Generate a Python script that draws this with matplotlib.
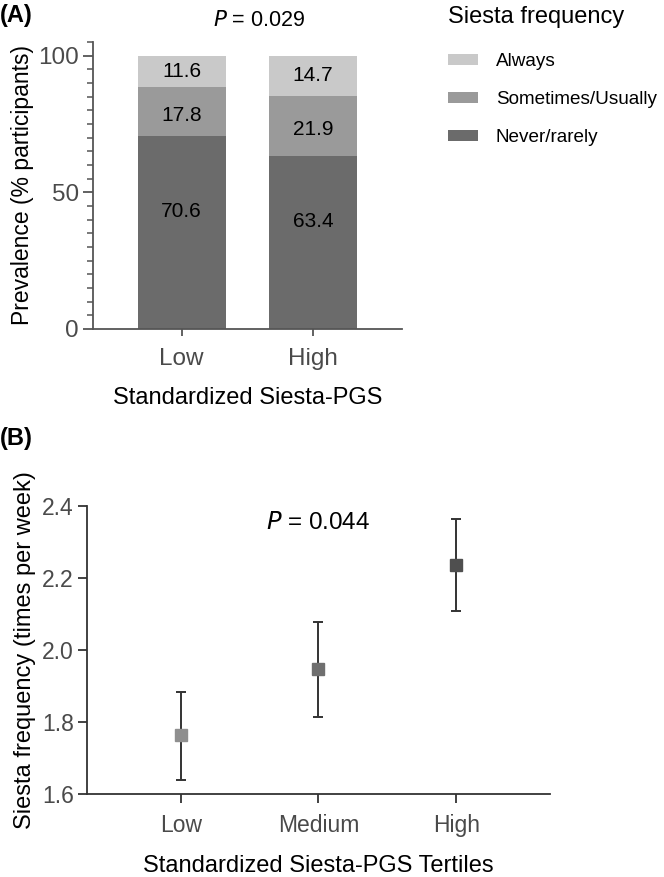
import matplotlib.pyplot as plt
from matplotlib.ticker import MultipleLocator
from matplotlib.patches import Patch

plt.rcParams['font.family'] = ['Liberation Sans', 'DejaVu Sans']

# panel A data
groups_a = ["Low", "High"]
never = [70.6, 63.4]
sometimes = [17.8, 21.9]
always = [11.6, 14.7]
freq_labels = ["Always", "Sometimes/Usually", "Never/rarely"]
freq_colors = ["#c9c9c9", "#9a9a9a", "#6b6b6b"]

# panel B data
groups_b = ["Low", "Medium", "High"]
means = [1.764, 1.947, 2.238]
lower = [1.639, 1.815, 2.110]
upper = [1.884, 2.079, 2.364]
marker_colors = ["#8f8f8f", "#6f6f6f", "#4f4f4f"]

axis_col = "#555555"
tick_col = "#4a4a4a"

fig = plt.figure(figsize=(6.64, 8.77), dpi=100)

# ---------- (A) ----------
ax1 = fig.add_axes([0.140, 0.625, 0.465, 0.327])
x = list(range(len(groups_a)))
w = 0.67
bottoms2 = never
bottoms3 = [n + s for n, s in zip(never, sometimes)]
ax1.bar(x, never, w, color=freq_colors[2])
ax1.bar(x, sometimes, w, bottom=bottoms2, color=freq_colors[1])
ax1.bar(x, always, w, bottom=bottoms3, color=freq_colors[0])
for i in x:
    ax1.text(i, never[i] / 2 + 7.5, f"{never[i]:.1f}", ha='center', va='center', fontsize=15)
    ax1.text(i, never[i] + sometimes[i] / 2 - 1.5, f"{sometimes[i]:.1f}", ha='center', va='center', fontsize=15)
    ax1.text(i, bottoms3[i] + always[i] / 2, f"{always[i]:.1f}", ha='center', va='center', fontsize=15)

ax1.set_xlim(-0.675, 1.675)
ax1.set_ylim(0, 105)
ax1.set_yticks([0, 50, 100])
ax1.yaxis.set_minor_locator(MultipleLocator(5))
ax1.set_xticks(x)
ax1.set_xticklabels(groups_a)
ax1.set_ylabel("Prevalence (% participants)", fontsize=16.5, labelpad=3)
ax1.set_xlabel("Standardized Siesta-PGS", fontsize=17, labelpad=12)
for s in ["top", "right"]:
    ax1.spines[s].set_visible(False)
for s in ["left", "bottom"]:
    ax1.spines[s].set_color(axis_col)
    ax1.spines[s].set_linewidth(1.3)
ax1.tick_params(axis='y', which='major', length=7, width=1.3, color=axis_col,
                labelcolor=tick_col, labelsize=17.5, pad=3)
ax1.tick_params(axis='y', which='minor', length=4, width=1.1, color=axis_col)
ax1.tick_params(axis='x', length=5, width=1.3, color=axis_col,
                labelcolor=tick_col, labelsize=17.5, pad=9)
ax1.text(0.537, 1.077, r"$\it{P}$ = 0.029", transform=ax1.transAxes, ha='center', va='center', fontsize=15.5)

handles = [Patch(facecolor=c, edgecolor='none') for c in freq_colors]
leg = fig.legend(handles, freq_labels, title="Siesta frequency", loc='upper left',
                 bbox_to_anchor=(0.657, 1.006), frameon=False, fontsize=13.6,
                 title_fontsize=17, handlelength=1.6, handleheight=0.53,
                 labelspacing=1.12, handletextpad=0.95, borderpad=0.1)
leg._legend_box.align = "left"
leg._legend_box.sep = 18

fig.text(0.0, 0.982, "(A)", fontsize=17, fontweight='bold', va='center', ha='left')

# ---------- (B) ----------
ax2 = fig.add_axes([0.131, 0.0946, 0.697, 0.328])
xb = list(range(len(groups_b)))
for i in xb:
    ax2.errorbar(xb[i], means[i], yerr=[[means[i] - lower[i]], [upper[i] - means[i]]],
                 fmt='s', color=marker_colors[i], markersize=9, ecolor='#333333',
                 elinewidth=1.4, capsize=3.8, capthick=1.4)
ax2.set_xlim(-0.68, 2.68)
ax2.set_ylim(1.6, 2.4)
ax2.set_yticks([1.6, 1.8, 2.0, 2.2, 2.4])
ax2.set_yticklabels(["1.6", "1.8", "2.0", "2.2", "2.4"])
ax2.set_xticks(xb)
ax2.set_xticklabels(groups_b)
ax2.set_ylabel("Siesta frequency (times per week)", fontsize=17, labelpad=4)
ax2.set_xlabel("Standardized Siesta-PGS Tertiles", fontsize=17, labelpad=13)
for s in ["top", "right"]:
    ax2.spines[s].set_visible(False)
for s in ["left", "bottom"]:
    ax2.spines[s].set_color("#333333")
    ax2.spines[s].set_linewidth(1.3)
ax2.tick_params(axis='both', length=6.5, width=1.3, color="#333333",
                labelcolor=tick_col, labelsize=16.5, pad=3)
ax2.tick_params(axis='x', pad=8)
ax2.text(1, 2.353, r"$\it{P}$ = 0.044", ha='center', va='center', fontsize=17.5)

fig.text(0.0, 0.5, "(B)", fontsize=17, fontweight='bold', va='center', ha='left')

fig.savefig("out.png", dpi=100)
